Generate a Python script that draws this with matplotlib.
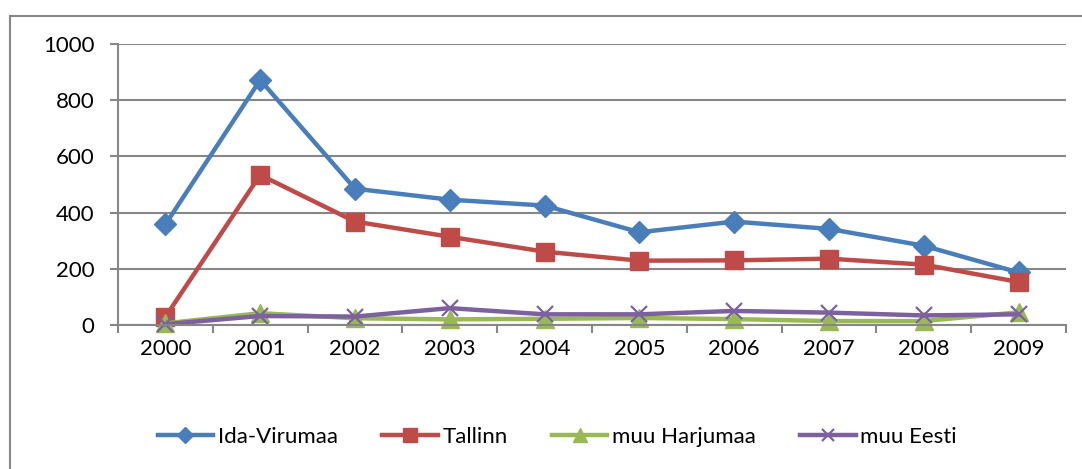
import matplotlib

matplotlib.use("Agg")
import matplotlib.pyplot as plt
from matplotlib.patches import Rectangle

# Data
YEARS = ["2000", "2001", "2002", "2003", "2004", "2005", "2006", "2007", "2008", "2009"]
IDA_VIRUMAA = [358, 872, 485, 446, 425, 330, 368, 342, 282, 187]
TALLINN = [29, 534, 368, 314, 261, 229, 230, 236, 215, 153]
MUU_HARJUMAA = [6, 42, 24, 20, 22, 25, 21, 14, 14, 45]
MUU_EESTI = [3, 32, 30, 60, 38, 38, 50, 44, 34, 38]

SERIES = [
    ("Ida-Virumaa", IDA_VIRUMAA, "#4A7EBB", "D", 11),
    ("Tallinn", TALLINN, "#BE4B48", "s", 13),
    ("muu Harjumaa", MUU_HARJUMAA, "#98B954", "^", 13),
    ("muu Eesti", MUU_EESTI, "#7D60A0", "x", 12),
]

GRAY = "#878787"

plt.rcParams["font.family"] = ["Lato", "DejaVu Sans"]

fig = plt.figure(figsize=(10.82, 4.69), dpi=100)
ax = fig.add_axes([118 / 1082, 1 - 325 / 469, (1066 - 118) / 1082, (325 - 44) / 469])

# outer chart frame (only top/left visible in the reference)
fig.patches.append(Rectangle((10 / 1082, -0.1), 1.2, 1.1 - 16 / 469,
                             transform=fig.transFigure, fill=False,
                             edgecolor=GRAY, linewidth=1.5))

x = list(range(len(YEARS)))
for name, vals, color, marker, ms in SERIES:
    kw = dict(markerfacecolor=color, markeredgecolor=color)
    if marker == "x":
        kw["markeredgewidth"] = 1.6
    ax.plot(x, vals, color=color, linewidth=3.2, marker=marker,
            markersize=ms, label=name, clip_on=False, **kw)

ax.set_xlim(-0.5, len(YEARS) - 0.5)
ax.set_ylim(0, 1000)
ax.set_yticks(range(0, 1001, 200))
ax.set_xticks(x)
ax.set_xticklabels(YEARS)
ax.set_xticks([i - 0.5 for i in range(len(YEARS) + 1)], minor=True)
ax.tick_params(axis="x", which="major", length=0, pad=10, labelsize=16)
ax.tick_params(axis="x", which="minor", length=6, width=1.5, color=GRAY, direction="out")
ax.tick_params(axis="y", length=6, width=1.5, color=GRAY, direction="out", pad=11, labelsize=16)

ax.yaxis.grid(True, color=GRAY, linewidth=1.5)
ax.set_axisbelow(True)
for side in ("top", "right"):
    ax.spines[side].set_visible(False)
for side in ("left", "bottom"):
    ax.spines[side].set_color(GRAY)
    ax.spines[side].set_linewidth(1.5)

leg = fig.legend(loc="center", bbox_to_anchor=(0.515, 1 - 437 / 469), ncol=4,
                 frameon=False, fontsize=16, handlelength=2.5,
                 columnspacing=2.0, handletextpad=0.2, markerscale=0.75)

fig.savefig("out.png", dpi=100)
